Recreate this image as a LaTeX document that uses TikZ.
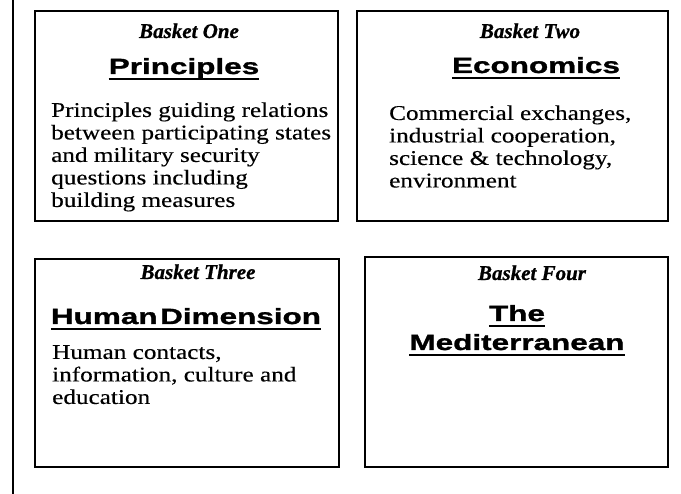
\documentclass[tikz,border=0pt]{standalone}
\usepackage{fontspec}
\usetikzlibrary{calc}
\newfontfamily\bodyfont[FakeStretch=1.2,FakeBold=0.3]{Liberation Serif}
\newfontfamily\headfont[FakeStretch=1.43,FakeBold=1.3]{Liberation Sans}
\newfontfamily\scriptfam[FakeBold=0.8]{Liberation Serif}
\tikzset{
  basket/.style={draw, line width=1.5pt},
  btitle/.style={inner sep=0, anchor=base, font=\scriptfam\bfseries\itshape\fontsize{21}{24}\selectfont},
  heading/.style={inner sep=0, anchor=base, font=\headfont\bfseries\fontsize{22}{26}\selectfont},
  body/.style={inner sep=0, anchor=north west, align=left, font=\bodyfont\fontsize{21}{22.5}\selectfont},
  uline/.style={line width=1.4pt},
  bar/.style={line width=2.8pt}
}
\begin{document}
\begin{tikzpicture}[x=1pt,y=-1pt]
\useasboundingbox (0,0) rectangle (681,494);
\fill[white] (0,0) rectangle (681,494);
% left bar
\coordinate (bartop) at (13,0);
\coordinate (barbot) at (13,494);
\draw[bar] (bartop) -- (barbot);
% boxes
\draw[basket] (35,11) rectangle (338,221);
\draw[basket] (357,11) rectangle (668,221);
\draw[basket] (35,259) rectangle (339,467);
\draw[basket] (365,257) rectangle (668,467);
% Basket One
\node[btitle] (t1) at (189,38) {Basket One};
\node[heading] (h1) at (184,74) {Principles};
\draw[uline] ($(h1.base west)+(0,5)$) -- ($(h1.base east)+(0,5)$);
\node[body] (x1) at (51,101) {\strut Principles guiding relations\\between participating states\\and military security\\questions including\\building measures};
% Basket Two
\node[btitle] (t2) at (530,38) {Basket Two};
\node[heading] (h2) at (536,73) {Economics};
\draw[uline] ($(h2.base west)+(0,5)$) -- ($(h2.base east)+(0,5)$);
\node[body] (x2) at (389,104) {\strut Commercial exchanges,\\industrial cooperation,\\science \& technology,\\environment};
% Basket Three
\node[btitle] (t3) at (198,279) {Basket Three};
\node[heading] (h3) at (186,324) {Human\hspace{0.12em}Dimension};
\draw[uline] ($(h3.base west)+(0,5)$) -- ($(h3.base east)+(0,5)$);
\node[body] (x3) at (52,343) {\strut Human contacts,\\information, culture and\\education};
% Basket Four
\node[btitle] (t4) at (532,280) {Basket Four};
\node[heading] (h4a) at (517,321) {The};
\draw[uline] ($(h4a.base west)+(0,5)$) -- ($(h4a.base east)+(0,5)$);
\node[heading] (h4b) at (517,350) {Mediterranean};
\draw[uline] ($(h4b.base west)+(0,5)$) -- ($(h4b.base east)+(0,5)$);
\end{tikzpicture}
\end{document}
